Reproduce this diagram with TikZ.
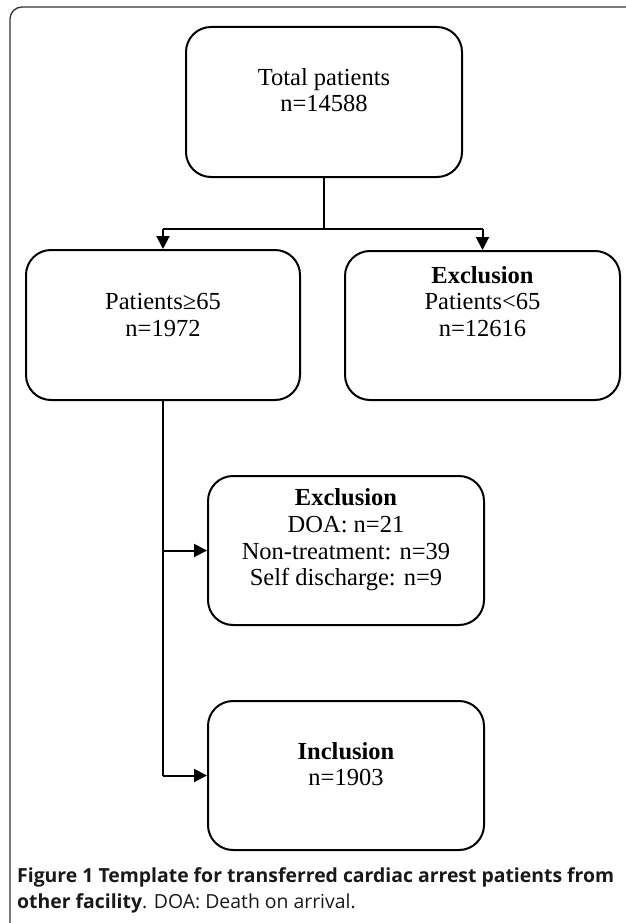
\documentclass[tikz,border=0pt]{standalone}
\usepackage{fontspec}
\setmainfont{Liberation Serif}
\newfontfamily\capfont{Open Sans}
\usetikzlibrary{arrows.meta}
\tikzset{
  flowbox/.style={draw=black, line width=2pt, rounded corners=25pt, minimum width=#1, inner sep=0pt},
  boxtext/.style={align=center, font=\fontsize{24.5}{26.7}\selectfont, inner sep=0pt},
  conn/.style={draw=black, line width=2pt},
  arr/.style={conn, -{Triangle[length=13pt,width=13pt]}},
  frame/.style={draw=black!80, line width=1.3pt, rounded corners=12pt},
  captext/.style={font=\capfont\fontsize{19.4}{26}\selectfont, inner sep=0pt, anchor=west, text=black!90}
}
\begin{document}
\begin{tikzpicture}[x=1pt, y=-1pt]
\useasboundingbox (0,0) rectangle (625,923);
\draw[frame] (10,7) rectangle (660,950);
% boxes
\node[flowbox=276pt, minimum height=150pt] (top) at (324,102) {};
\node[flowbox=274pt, minimum height=150pt] (left) at (163,325) {};
\node[flowbox=275pt, minimum height=149pt] (right) at (482.5,325.5) {};
\node[flowbox=276pt, minimum height=149pt] (excl) at (346,550.5) {};
\node[flowbox=276pt, minimum height=149pt] (incl) at (346,775.5) {};
% texts
\node[boxtext] (ttop) at (324,90) {Total patients\\n=14588};
\node[boxtext] (tleft) at (163,315) {Patients≥65\\n=1972};
\node[boxtext] (tright) at (482.5,301.5) {\textbf{Exclusion}\\Patients<65\\n=12616};
\node[boxtext] (texcl) at (346,540) {\textbf{Exclusion}\\DOA: n=21\\Non-treatment: n=39\\Self discharge: n=9};
\node[boxtext] (tincl) at (346,764) {\textbf{Inclusion}\\n=1903};
% connectors
\coordinate (split) at (top.south |- 0,229);
\coordinate (sl) at (left.north |- 0,229);
\coordinate (sr) at (right.north |- 0,229);
\draw[conn] (top.south) -- (split);
\draw[conn] (sl) -- (sr);
\draw[arr] (sl) -- (left.north);
\draw[arr] (sr) -- (right.north);
\coordinate (jexcl) at (left.south |- excl.west);
\coordinate (jincl) at (left.south |- incl.west);
\draw[conn] (left.south) -- (jincl);
\draw[arr] (jexcl) -- (excl.west);
\draw[arr] (jincl) -- (incl.west);
% caption
\node[captext] (cap1) at (17,877) {\textbf{Figure 1 Template for transferred cardiac arrest patients from}};
\node[captext] (cap2) at (17,903) {\textbf{other facility}. DOA: Death on arrival.};
\end{tikzpicture}
\end{document}
